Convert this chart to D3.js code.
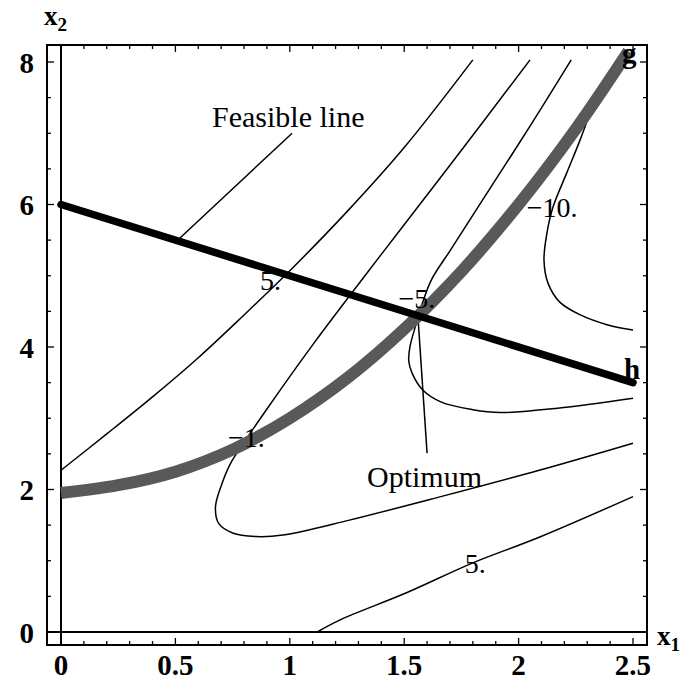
<!DOCTYPE html>
<html>
<head>
<meta charset="utf-8">
<script src="https://cdn.jsdelivr.net/npm/d3@7"></script>
<style>
  html, body { margin: 0; padding: 0; background: #fff; }
  svg text { font-family: 'Liberation Serif', 'DejaVu Serif', serif; fill: #000; }
</style>
</head>
<body>
<div id="chart"></div>
<script>
// tick values
const X_TICKS = [0, 0.5, 1, 1.5, 2, 2.5];
const Y_TICKS = [0, 2, 4, 6, 8];

// contour lines of f as [x1, x2]
const contourUpper5 = [[0, 2.27], [0.2, 2.78], [0.4, 3.30], [0.6, 3.85], [0.8, 4.45], [1.0, 5.07],
  [1.25, 5.90], [1.5, 6.80], [1.8, 8.03]];
const contourMinus1 = [[2.05, 8.03], [1.70, 6.55], [1.40, 5.30], [1.10, 4.03], [0.90, 3.13],
  [0.80, 2.66], [0.74, 2.36], [0.70, 2.05], [0.675, 1.75], [0.69, 1.52], [0.75, 1.39],
  [0.85, 1.34], [0.97, 1.36], [1.26, 1.57], [1.66, 1.90], [2.09, 2.27], [2.5, 2.65]];
const contourMinus5 = [[2.23, 8.03], [2.05, 7.10], [1.85, 6.10], [1.70, 5.35], [1.62, 4.95],
  [1.58, 4.62], [1.55, 4.30], [1.525, 4.00], [1.52, 3.80], [1.535, 3.63], [1.58, 3.40],
  [1.66, 3.23], [1.80, 3.12], [1.92, 3.08], [2.17, 3.14], [2.5, 3.28]];
const contourMinus10 = [[2.33, 7.45], [2.268, 6.90], [2.21, 6.44], [2.15, 5.96], [2.124, 5.60],
  [2.111, 5.22], [2.128, 4.90], [2.18, 4.63], [2.27, 4.45], [2.39, 4.31], [2.5, 4.24]];
const contourLower5 = [[1.12, 0], [1.22, 0.17], [1.51, 0.55], [1.80, 0.97], [2.09, 1.33], [2.5, 1.90]];

// constraints
const constraintG = [[0, 1.95], [0.25, 2.06], [0.5, 2.25], [0.75, 2.56], [1.0, 3.0], [1.25, 3.56],
  [1.5, 4.25], [1.75, 5.06], [2.0, 6.0], [2.25, 7.06], [2.48, 8.15]];
const constraintH = [[0, 6], [2.5, 3.5]];

// annotation leaders
const feasibleLeader = [[0.52, 5.53], [1.01, 7.0]];
const optimumLeader = [[1.56, 4.43], [1.60, 2.51]];

const contourLabels = [
  { text: '5.', x: 0.87, x2: 4.80 },
  { text: '\u22121.', x: 0.73, x2: 2.60 },
  { text: '\u22125.', x: 1.475, x2: 4.55 },
  { text: '\u221210.', x: 2.036, x2: 5.83 },
  { text: '5.', x: 1.765, x2: 0.83 },
];

const W = 694;
const H = 693;
const frame = { left: 47, right: 647, top: 45, bottom: 645 };

const x = d3.scaleLinear().domain([-0.0612, 2.5612]).range([frame.left, frame.right]);
const y = d3.scaleLinear().domain([-0.1825, 8.2386]).range([frame.bottom, frame.top]);

const svg = d3.select('#chart').append('svg')
  .attr('width', W)
  .attr('height', H);

svg.append('defs').append('clipPath').attr('id', 'plot-clip')
  .append('rect')
  .attr('x', frame.left).attr('y', frame.top)
  .attr('width', frame.right - frame.left)
  .attr('height', frame.bottom - frame.top);

const plot = svg.append('g').attr('clip-path', 'url(#plot-clip)');

// axes through the origin
plot.append('line')
  .attr('x1', frame.left).attr('x2', frame.right)
  .attr('y1', y(0)).attr('y2', y(0))
  .attr('stroke', '#000').attr('stroke-width', 2);
plot.append('line')
  .attr('x1', x(0)).attr('x2', x(0))
  .attr('y1', frame.top).attr('y2', frame.bottom)
  .attr('stroke', '#000').attr('stroke-width', 2);

const smooth = d3.line().x((d) => x(d[0])).y((d) => y(d[1])).curve(d3.curveCatmullRom);
const straight = d3.line().x((d) => x(d[0])).y((d) => y(d[1]));

[contourUpper5, contourMinus1, contourMinus5, contourMinus10, contourLower5].forEach((c) => {
  plot.append('path')
    .attr('d', smooth(c))
    .attr('fill', 'none')
    .attr('stroke', '#000')
    .attr('stroke-width', 1.5);
});

[feasibleLeader, optimumLeader].forEach((c) => {
  plot.append('path')
    .attr('d', straight(c))
    .attr('fill', 'none')
    .attr('stroke', '#000')
    .attr('stroke-width', 1.5);
});

plot.append('path')
  .attr('d', smooth(constraintG))
  .attr('fill', 'none')
  .attr('stroke', '#595959')
  .attr('stroke-width', 12);

plot.append('path')
  .attr('d', straight(constraintH))
  .attr('fill', 'none')
  .attr('stroke', '#000')
  .attr('stroke-width', 7.5)
  .attr('stroke-linecap', 'round');

// contour labels
plot.selectAll('.clabel')
  .data(contourLabels)
  .join('text')
  .attr('class', 'clabel')
  .attr('x', (d) => x(d.x))
  .attr('y', (d) => y(d.x2))
  .attr('font-size', 28)
  .text((d) => d.text);

// frame with inward ticks
svg.append('rect')
  .attr('x', frame.left).attr('y', frame.top)
  .attr('width', frame.right - frame.left)
  .attr('height', frame.bottom - frame.top)
  .attr('fill', 'none')
  .attr('stroke', '#000')
  .attr('stroke-width', 2);

const xMinor = d3.range(0, 2.5001, 0.1);
const yMinor = d3.range(0, 8.0001, 0.5);
const ticks = svg.append('g').attr('stroke', '#000').attr('stroke-width', 1.3);

xMinor.forEach((v) => {
  const len = X_TICKS.some((t) => Math.abs(t - v) < 1e-6) ? 7 : 4;
  ticks.append('line').attr('x1', x(v)).attr('x2', x(v))
    .attr('y1', frame.bottom).attr('y2', frame.bottom - len);
  ticks.append('line').attr('x1', x(v)).attr('x2', x(v))
    .attr('y1', frame.top).attr('y2', frame.top + len);
});
yMinor.forEach((v) => {
  const len = Y_TICKS.some((t) => Math.abs(t - v) < 1e-6) ? 7 : 4;
  ticks.append('line').attr('y1', y(v)).attr('y2', y(v))
    .attr('x1', frame.left).attr('x2', frame.left + len);
  ticks.append('line').attr('y1', y(v)).attr('y2', y(v))
    .attr('x1', frame.right).attr('x2', frame.right - len);
});

// tick labels
svg.selectAll('.xlab')
  .data(X_TICKS)
  .join('text')
  .attr('class', 'xlab')
  .attr('x', (d) => x(d))
  .attr('y', 675)
  .attr('text-anchor', 'middle')
  .attr('font-size', 29)
  .attr('font-weight', 'bold')
  .text((d) => d);

svg.selectAll('.ylab')
  .data(Y_TICKS)
  .join('text')
  .attr('class', 'ylab')
  .attr('x', 34)
  .attr('y', (d) => y(d) + 11)
  .attr('text-anchor', 'end')
  .attr('font-size', 29)
  .attr('font-weight', 'bold')
  .text((d) => d);

// axis titles
const xt = svg.append('text').attr('x', 657).attr('y', 645)
  .attr('font-size', 27).attr('font-weight', 'bold');
xt.append('tspan').text('x');
xt.append('tspan').attr('font-size', 19).attr('dy', 6).text('1');

const yt = svg.append('text').attr('x', 44).attr('y', 25)
  .attr('font-size', 27).attr('font-weight', 'bold');
yt.append('tspan').text('x');
yt.append('tspan').attr('font-size', 19).attr('dy', 6).text('2');

// annotations
svg.append('text').attr('x', 212).attr('y', 127).attr('font-size', 30).text('Feasible line');
svg.append('text').attr('x', 367).attr('y', 487).attr('font-size', 30).text('Optimum');
svg.append('text').attr('x', 622).attr('y', 63).attr('font-size', 29).attr('font-weight', 'bold').text('g');
svg.append('text').attr('x', 624).attr('y', 379).attr('font-size', 29).attr('font-weight', 'bold').text('h');
</script>
</body>
</html>
